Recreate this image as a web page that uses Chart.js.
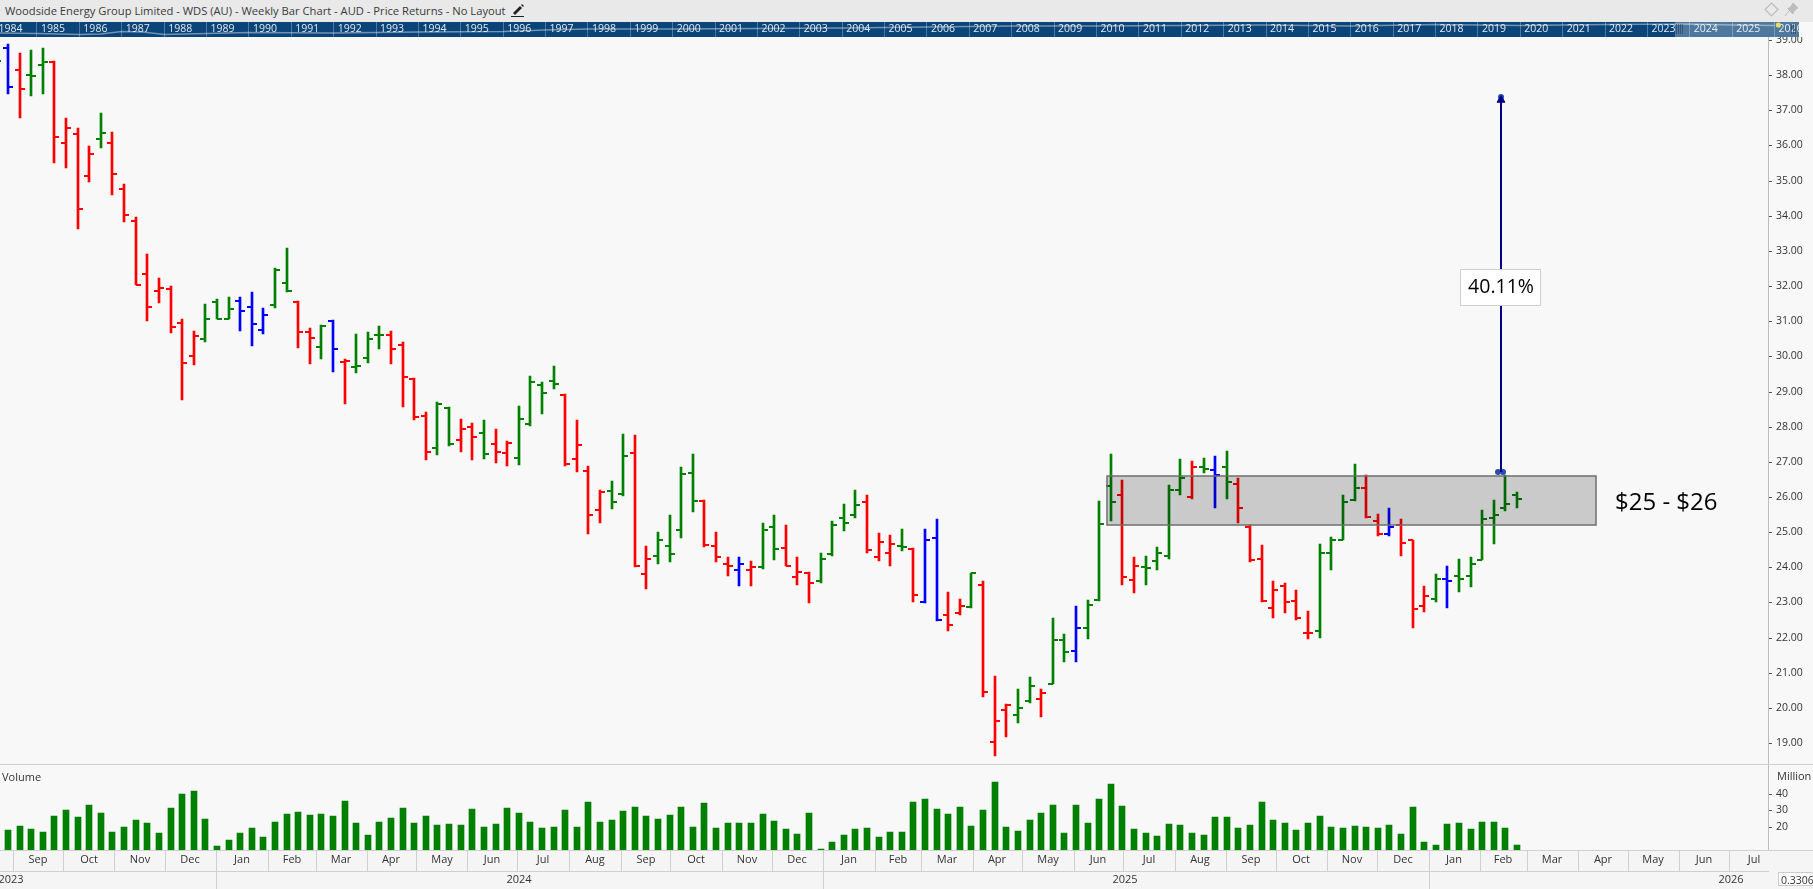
<!DOCTYPE html>
<html>
<head>
<meta charset="utf-8">
<title>WDS weekly bar chart</title>
<script src="https://cdn.jsdelivr.net/npm/chart.js@4"></script>
<style>
html,body{margin:0;padding:0;width:1813px;height:889px;overflow:hidden;background:#f8f8f8;font-family:"Open Sans",sans-serif;}
#topbar{position:absolute;left:0;top:0;width:1813px;height:22px;background:#e9e9e9;}
#title{position:absolute;left:5px;top:2px;font-size:11.2px;line-height:18px;color:#3a3a3a;white-space:nowrap;}
#topbar svg{position:absolute;}
#navwrap{position:absolute;left:0;top:22px;width:1799px;height:15px;}
#bottomband{position:absolute;left:0;top:850px;width:1813px;height:39px;background:#f5f5f5;}
.sep{position:absolute;left:0;width:1813px;height:1px;background:#cfcfcf;}
#mainwrap{position:absolute;left:0;top:37px;width:1813px;height:852px;}
canvas{display:block;}
#scalebox{position:absolute;left:1778px;top:872px;width:40px;height:14px;background:#fff;border:1px solid #ccc;font-size:10.5px;line-height:14px;color:#333;padding-left:2px;box-sizing:border-box;}
</style>
</head>
<body>
<div id="topbar">
  <div id="title">Woodside Energy Group Limited - WDS (AU) - Weekly Bar Chart - AUD - Price Returns - No Layout</div>
  <svg style="left:511px;top:3px" width="14" height="14" viewBox="0 0 14 14"><path d="M2 10 L9 3 L11 5 L4 12 Z" fill="#222"/><path d="M10 2 L11 1 L13 3 L12 4 Z" fill="#222"/><path d="M0 13.5 H13" stroke="#222" stroke-width="1"/></svg>
  <svg style="left:1764px;top:2px" width="15" height="15" viewBox="0 0 15 15"><path d="M7.5 1 L14 7.5 L7.5 14 L1 7.5 Z" fill="none" stroke="#bdbdbd" stroke-width="1.2"/></svg>
  <svg style="left:1784px;top:2px" width="15" height="15" viewBox="0 0 15 15"><path d="M9 1 L14 6 L12 7 L9.5 10 L9 12 L3.5 6.5 L5.5 6 L8 3 Z M5 9 L1 14" fill="#bdbdbd" stroke="#bdbdbd"/></svg>
</div>
<div id="bottomband"></div>
<div id="navwrap"><canvas id="navChart" width="1799" height="15"></canvas></div>
<div id="mainwrap"><canvas id="mainChart" width="1813" height="852"></canvas></div>
<div class="sep" style="top:764px"></div>
<div class="sep" style="top:850px"></div>
<div id="scalebox">0.3306</div>
<script>
// weekly bars, first entry sits just off the left edge
var opens = [38.60,
  38.77,38.15,38.00,38.29,38.37,36.07,36.32,35.13,36.18,36.07,
  34.76,33.85,32.34,31.85,31.91,30.94,30.00,30.49,31.54,31.06,
  31.57,31.40,30.74,31.46,32.08,31.54,30.69,30.26,31.00,29.83,
  29.69,29.95,30.60,30.60,30.32,29.35,28.30,27.38,28.52,27.61,
  27.98,27.81,27.50,27.24,27.10,28.07,29.18,29.29,28.89,27.07,
  26.73,25.62,26.16,26.08,27.24,23.80,24.31,24.60,25.05,26.67,
  25.88,24.60,24.08,23.91,23.91,24.00,25.14,24.54,23.71,23.85,
  23.60,24.37,25.39,25.50,25.85,24.28,24.42,24.60,24.51,23.00,
  24.82,22.63,22.69,22.86,23.51,19.02,19.95,19.81,20.21,20.24,
  20.69,21.92,21.61,22.26,23.06,26.30,26.07,23.63,24.00,24.17,
  24.31,26.19,25.99,26.84,26.76,26.84,26.36,25.16,24.25,22.83,
  23.48,23.03,22.12,22.20,24.40,24.79,25.90,26.25,25.31,24.94,
  25.19,24.77,22.89,23.11,23.68,23.74,23.74,24.22,25.39,25.70,
  26.07];
var highs = [38.90,
  38.89,38.63,38.72,38.77,38.40,36.78,36.50,35.98,36.92,36.38,
  34.90,33.96,32.91,32.22,32.00,31.06,30.72,31.48,31.63,31.68,
  31.68,31.83,31.37,32.51,33.08,31.57,30.80,30.89,31.03,29.92,
  30.63,30.69,30.86,30.72,30.40,29.38,28.41,28.69,28.55,28.21,
  28.10,28.18,27.93,27.58,28.58,29.44,29.26,29.72,28.92,28.18,
  26.87,26.19,26.45,27.78,27.75,24.60,24.99,25.48,26.84,27.21,
  25.90,24.99,24.28,24.28,24.17,25.25,25.50,25.19,24.28,23.88,
  24.40,25.31,25.79,26.19,26.05,24.97,24.91,25.08,24.54,25.08,
  25.36,23.31,23.11,23.85,23.60,20.92,20.10,20.55,20.87,20.55,
  22.57,22.09,22.89,23.08,25.88,27.21,26.47,24.28,24.31,24.57,
  26.33,27.07,27.01,27.10,27.16,27.30,26.53,25.19,24.62,23.60,
  23.54,23.34,22.77,24.65,24.85,26.07,26.93,26.62,25.51,25.70,
  25.36,24.79,23.48,23.80,24.03,24.25,24.28,25.62,25.90,26.62,
  26.13];
var lows = [38.20,
  37.46,36.78,37.41,37.46,35.50,35.36,33.62,34.96,35.93,34.59,
  33.82,32.03,31.00,31.51,30.66,28.75,29.75,30.40,31.06,31.06,
  30.72,30.29,30.63,31.37,31.83,30.23,29.78,29.92,29.55,28.64,
  29.52,29.80,30.20,29.78,28.55,28.18,27.04,27.19,27.44,27.27,
  27.04,27.07,26.98,26.87,26.90,28.01,28.35,29.06,26.87,26.70,
  24.94,25.25,25.65,26.02,24.00,23.37,24.08,24.14,24.82,25.56,
  24.57,24.14,23.74,23.48,23.46,23.94,24.22,24.03,23.51,22.97,
  23.54,24.31,25.02,25.39,24.42,24.17,24.05,24.45,23.00,22.97,
  22.46,22.20,22.63,22.83,20.32,18.62,19.16,19.58,20.15,19.73,
  20.67,21.32,21.32,21.97,23.03,25.33,23.51,23.26,23.51,23.91,
  24.25,26.05,25.93,26.67,25.70,25.93,25.25,24.14,23.00,22.57,
  22.69,22.49,21.97,22.00,23.91,24.77,25.88,25.39,24.88,24.88,
  24.31,22.26,22.74,23.00,22.83,23.29,23.43,24.20,24.65,25.59,
  25.68];
var closes = [38.41,
  37.66,37.61,37.98,38.37,36.24,36.50,34.19,35.75,36.35,35.19,
  34.02,32.03,31.40,31.94,30.83,29.80,30.57,31.06,31.06,31.34,
  31.28,30.91,31.17,32.45,31.85,30.69,30.52,30.86,30.20,29.86,
  29.72,30.49,30.60,30.20,29.41,28.27,27.27,28.64,27.50,27.93,
  27.70,27.21,27.27,27.53,28.21,29.26,28.95,29.21,26.93,27.47,
  25.50,26.13,25.85,27.18,24.03,24.25,24.77,24.37,26.64,25.88,
  24.62,24.28,24.05,24.08,24.00,25.05,24.51,24.05,23.88,23.54,
  24.25,25.19,25.25,25.76,24.48,24.71,24.65,24.57,23.20,24.77,
  22.49,22.37,22.91,23.83,20.44,19.64,20.07,20.01,20.61,20.41,
  21.92,21.58,22.26,22.94,25.22,25.85,23.71,24.05,23.97,24.40,
  26.19,26.53,26.84,26.81,26.62,26.42,25.68,24.22,23.03,23.34,
  23.00,22.55,22.12,24.40,24.79,25.85,26.25,25.42,24.94,25.16,
  24.68,22.80,23.17,23.66,23.60,23.68,24.08,25.36,25.48,25.79,
  25.93];
var barTypes = ("g"+
  "brggrrrrgr"+"rrrrrrrggg"+"bbbggrrgbr"+"gggrrrrggr"+"rgrrggggrr"+
  "rrggrrgggg"+"rrrbrggrrr"+"ggggrrrgrb"+"brrgrrrggr"+"ggbgggrrgg"+
  "ggrgbgrrrr"+"rrrggggrrb"+"rrrgbggggg"+"g").split("");
var volumes = [20,
  18.1,20.5,18.7,16.9,26.6,30.2,26.0,33.3,28.4,16.9,
  19.9,24.2,22.4,16.3,31.5,39.9,41.8,24.8,8.4,12.1,
  16.3,19.3,13.9,23.0,27.8,29.0,27.2,27.8,26.6,35.7,
  22.4,15.1,23.0,25.4,31.5,22.4,26.6,21.2,21.8,21.2,
  30.8,19.9,21.8,31.5,28.4,23.0,19.3,19.9,30.2,19.9,
  35.1,23.0,24.2,29.6,32.1,26.6,24.8,27.2,32.1,19.9,
  34.5,19.3,22.4,22.4,22.4,27.8,23.6,18.7,15.7,28.4,
  6.6,10.8,15.1,18.7,19.3,13.9,16.9,16.9,35.1,36.9,
  30.8,27.8,32.1,20.5,30.2,47.2,19.9,17.5,24.2,28.4,
  33.3,16.3,33.3,22.4,36.9,46.0,32.7,18.7,16.3,14.5,
  21.8,21.2,16.3,15.1,26.0,26.0,19.3,21.2,35.1,24.2,
  22.4,18.1,22.4,26.6,19.9,19.3,20.5,19.9,19.3,21.2,
  15.7,32.1,10.8,9.0,21.8,22.4,18.7,23.0,23.0,19.3,
  9.0];

var priceTicks = [19,20,21,22,23,24,25,26,27,28,29,30,31,32,33,34,35,36,37,38,39];
var volumeTicks = [20,30,40];

// month and year rows, given as week positions on the shared x axis
var monthLabels = ["Sep","Oct","Nov","Dec","Jan","Feb","Mar","Apr","May","Jun","Jul","Aug",
  "Sep","Oct","Nov","Dec","Jan","Feb","Mar","Apr","May","Jun","Jul","Aug",
  "Sep","Oct","Nov","Dec","Jan","Feb","Mar","Apr","May","Jun","Jul"];
var monthStarts = [1.47,5.78,10.17,14.49,18.88,23.36,27.51,31.89,36.18,40.57,44.88,49.37,
  53.78,58.06,62.48,66.79,71.18,75.66,79.63,84.11,88.33,92.81,97.03,101.51,
  105.90,110.21,114.60,118.91,123.39,127.78,131.83,136.23,140.53,144.93,149.23,153.59];
var yearLabels = ["2023","2024","2025","2026"];
var yearLabelAt = [1.26,45.03,97.20,149.43];
var yearStarts = [18.88,71.18,123.39];

// drawn studies
var zoneLow = 25.21, zoneHigh = 26.61, zoneFrom = 95.65, zoneTo = 137.77;
var zoneText = "$25 - $26";
var measureWeek = 129.6, measureFrom = 26.72, measureTo = 37.38;
var measureText = "40.11%";

// navigator strip
var navYears = [];
for (var yr = 1984; yr <= 2026; yr++) navYears.push(yr);
var navHistX = [1984,1985,1986,1986.5,1987,1987.5,1988,1989,1990,1992,1994,1996,1997,1998,2000,2004,2008,2010,2012,2014,2016,2018,2020,2022,2024,2025,2026];
var navHistY = [4,3.5,2.5,3,5.5,5,2.5,3.5,4.5,4,5,5.5,7,8,8,9,11,11,11.5,12,11,12.5,11.5,12.5,13,12,11.5];

var COLORS = {g:"#008000", r:"#ff0000", b:"#0000ff"};
var weeks = opens.map(function(o,i){ return i; });
var barColors = barTypes.map(function(t){ return COLORS[t]; });

function snapScale(scale){
  if (scale._snapped) return;
  scale._snapped = true;
  var f = scale.getPixelForValue;
  scale.getPixelForValue = function(v,i){ return Math.round(f.call(scale,v,i)); };
}

function points(xs,ys){
  return xs.map(function(x,i){ return {x:x,y:ys[i]}; });
}

// chart.js pads the scales for the overflowing tick labels, the panes here have fixed edges
function setBox(scale,l,t,r,b){
  scale.left = l; scale.right = r; scale.top = t; scale.bottom = b;
  scale.width = r-l; scale.height = b-t;
  scale.configure();
  scale._labelItems = null;
}

var pinPanes = {
  id:"pinPanes",
  afterLayout:function(chart){
    var a = chart.chartArea, s = chart.scales;
    a.left = 0; a.right = 1768; a.top = 0; a.bottom = 813; a.width = 1768; a.height = 813;
    setBox(s.x,0,813,1768,834);
    setBox(s.xYear,0,834,1768,852);
    setBox(s.y,1768,0,1813,727.5);
    setBox(s.yVol,1768,727.5,1813,813);
  }
};

var studies = {
  id:"studies",
  afterDatasetsDraw:function(chart){
    var c = chart.ctx, x = chart.scales.x, y = chart.scales.y, v = chart.scales.yVol;
    var l = x.getPixelForValue(zoneFrom), r = x.getPixelForValue(zoneTo);
    var t = y.getPixelForValue(zoneHigh), b = y.getPixelForValue(zoneLow);
    c.save();
    c.fillStyle = "rgba(0,0,0,0.185)";
    c.fillRect(l,t,r-l,b-t);
    c.strokeStyle = "#6e6e6e";
    c.lineWidth = 1.5;
    c.strokeRect(l,t,r-l,b-t);
    c.fillStyle = "#000";
    c.font = "24px 'Open Sans'";
    c.textAlign = "left";
    c.textBaseline = "middle";
    c.fillText(zoneText, r+19, y.getPixelForValue(25.84));

    var mx = x.getPixelForValue(measureWeek), my = y.getPixelForValue((measureFrom+measureTo)/2 - 0.07);
    c.fillStyle = "#fff";
    c.strokeStyle = "#d0d0d0";
    c.lineWidth = 1;
    c.fillRect(mx-41,my-18,81,37);
    c.strokeRect(mx-41+0.5,my-18+0.5,80,36);
    c.fillStyle = "#000";
    c.font = "19.5px 'Open Sans'";
    c.textAlign = "center";
    c.fillText(measureText, mx, my);

    c.fillStyle = "#333";
    c.font = "11px 'Open Sans'";
    c.textAlign = "left";
    c.fillText("Volume", 2, v.top+13);
    c.fillText("Million", x.right+9, v.top+12);
    c.restore();
  }
};

new Chart(document.getElementById("mainChart"),{
  type:"bar",
  data:{
    datasets:[
      {type:"scatter", showLine:true, data:points([measureWeek,measureWeek],[measureFrom,measureTo]), yAxisID:"y", xAxisID:"x",
       borderColor:"#00008b", borderWidth:2, pointRadius:[0,0]},
      {type:"scatter", data:points([measureWeek],[measureTo-0.08]), yAxisID:"y", xAxisID:"x",
       pointStyle:"triangle", pointRadius:4.5, pointBackgroundColor:"#00008b", pointBorderColor:"#00008b", pointBorderWidth:1},
      {type:"scatter", data:points([measureWeek,measureWeek-0.2,measureWeek+0.2],[measureTo,measureFrom,measureFrom]), yAxisID:"y", xAxisID:"x",
       pointStyle:"circle", pointRadius:3, pointBackgroundColor:"#2a4cb0", pointBorderColor:"#2a4cb0", pointBorderWidth:0},
      {type:"scatter", data:points(weeks,opens), yAxisID:"y", xAxisID:"x",
       pointStyle:"dash", pointRadius:5, pointRotation:180, pointBorderWidth:2, pointBorderColor:barColors},
      {type:"scatter", data:points(weeks,closes), yAxisID:"y", xAxisID:"x",
       pointStyle:"dash", pointRadius:5, pointBorderWidth:2, pointBorderColor:barColors},
      {type:"bar", grouped:false, barThickness:2, yAxisID:"y", xAxisID:"x",
       data:weeks.map(function(w,i){ return {x:w,y:[lows[i],highs[i]]}; }), backgroundColor:barColors},
      {type:"bar", grouped:false, barThickness:6, yAxisID:"yVol", xAxisID:"x",
       data:points(weeks,volumes), backgroundColor:"#008000"}
    ]
  },
  options:{
    responsive:false, animation:false, events:[],
    layout:{autoPadding:false, padding:0},
    plugins:{legend:{display:false}, tooltip:{enabled:false}},
    scales:{
      x:{
        type:"linear", position:"bottom", min:0.311, max:152.62, weight:0, offset:false,
        border:{color:"#cfcfcf"},
        grid:{offset:false, drawOnChartArea:false, tickLength:21, tickWidth:1,
          tickColor:function(ctx){ return ctx.tick && ctx.tick.boundary ? "#cfcfcf" : "rgba(0,0,0,0)"; }},
        ticks:{autoSkip:false, maxRotation:0, padding:-18, color:"#333", font:{family:"Open Sans",size:11},
          callback:function(v,i,all){ return all[i].text0; }},
        afterBuildTicks:function(scale){
          snapScale(scale);
          var t = [];
          monthLabels.forEach(function(m,i){
            t.push({value:monthStarts[i], boundary:true, text0:""});
            t.push({value:(monthStarts[i]+monthStarts[i+1])/2, boundary:false, text0:m});
          });
          scale.ticks = t;
        },
        afterFit:function(scale){ scale.height = 21; }
      },
      xYear:{
        type:"linear", position:"bottom", min:0.311, max:152.62, weight:1, offset:false,
        border:{color:"#cfcfcf"},
        grid:{offset:false, drawOnChartArea:false, tickLength:18, tickWidth:1,
          tickColor:function(ctx){ return ctx.tick && ctx.tick.boundary ? "#cfcfcf" : "rgba(0,0,0,0)"; }},
        ticks:{autoSkip:false, maxRotation:0, padding:-16, color:"#333", font:{family:"Open Sans",size:11},
          callback:function(v,i,all){ return all[i].text0; }},
        afterBuildTicks:function(scale){
          snapScale(scale);
          var t = yearStarts.map(function(v){ return {value:v, boundary:true, text0:""}; });
          yearLabels.forEach(function(y,i){ t.push({value:yearLabelAt[i], boundary:false, text0:y}); });
          scale.ticks = t;
        },
        afterFit:function(scale){ scale.height = 18; }
      },
      y:{
        type:"linear", position:"right", stack:"panes", stackWeight:727, min:18.39, max:39.085,
        border:{color:"#bdbdbd"},
        grid:{drawOnChartArea:false, tickLength:4, tickColor:"#555"},
        ticks:{padding:4, color:"#333", font:{family:"Open Sans",size:10.5}, autoSkip:false,
          callback:function(v){ return v.toFixed(2); }},
        afterBuildTicks:function(scale){
          snapScale(scale);
          scale.ticks = priceTicks.map(function(v){ return {value:v}; });
        },
        afterFit:function(scale){ scale.width = 45; }
      },
      yVol:{
        type:"linear", position:"right", stack:"panes", stackWeight:86, min:6, max:57.9,
        border:{color:"#bdbdbd"},
        grid:{drawOnChartArea:false, tickLength:4, tickColor:"#555"},
        ticks:{padding:4, color:"#333", font:{family:"Open Sans",size:10.5}, autoSkip:false},
        afterBuildTicks:function(scale){
          snapScale(scale);
          scale.ticks = volumeTicks.map(function(v){ return {value:v}; });
        },
        afterFit:function(scale){ scale.width = 45; }
      }
    }
  },
  plugins:[pinPanes,studies]
});

var navWindow = {
  id:"navWindow",
  afterLayout:function(chart){
    var a = chart.chartArea, s = chart.scales;
    a.left = 0; a.right = 1799; a.top = 0; a.bottom = 15; a.width = 1799; a.height = 15;
    setBox(s.x,0,0,1799,15);
    setBox(s.y,0,0,0,15);
  },
  beforeDraw:function(chart){
    var c = chart.ctx;
    c.save();
    c.fillStyle = "#0b4478";
    c.fillRect(0,0,chart.width,chart.height);
    c.restore();
  },
  afterDatasetsDraw:function(chart){
    var c = chart.ctx, x = chart.scales.x;
    var l = x.getPixelForValue(2023.65);
    c.save();
    c.fillStyle = "rgba(255,255,255,0.28)";
    c.fillRect(l,0,chart.width-l,chart.height);
    c.strokeStyle = "rgba(40,60,90,0.6)";
    c.lineWidth = 1;
    [l+1,l+3,l+5,l+7,chart.width-8,chart.width-6,chart.width-4].forEach(function(p){
      c.beginPath(); c.moveTo(p+0.5,2); c.lineTo(p+0.5,12); c.stroke();
    });
    c.fillStyle = "#e6dc6a";
    c.beginPath(); c.arc(x.getPixelForValue(2026.09),3,2.6,0,Math.PI*2); c.fill();
    c.restore();
  }
};

new Chart(document.getElementById("navChart"),{
  type:"scatter",
  data:{datasets:[{showLine:true, data:points(navHistX,navHistY), borderColor:"rgba(255,255,255,0.42)", borderWidth:1.5, pointRadius:0}]},
  options:{
    responsive:false, animation:false, events:[],
    layout:{autoPadding:false, padding:0},
    plugins:{legend:{display:false}, tooltip:{enabled:false}},
    scales:{
      x:{type:"linear", min:1984.127, max:2026.576, position:"bottom",
        border:{display:false},
        grid:{color:"rgba(255,255,255,0.28)", tickLength:0, drawTicks:false},
        ticks:{autoSkip:false, maxRotation:0, padding:1, labelOffset:16, color:"rgba(255,255,255,0.88)",
          font:{family:"Open Sans",size:10.5}, callback:function(v){ return String(v); }},
        afterBuildTicks:function(scale){ scale.ticks = navYears.map(function(v){ return {value:v}; }); },
        afterFit:function(scale){ scale.height = 15; }
      },
      y:{display:false, min:0, max:15}
    }
  },
  plugins:[navWindow]
});
</script>
</body>
</html>
